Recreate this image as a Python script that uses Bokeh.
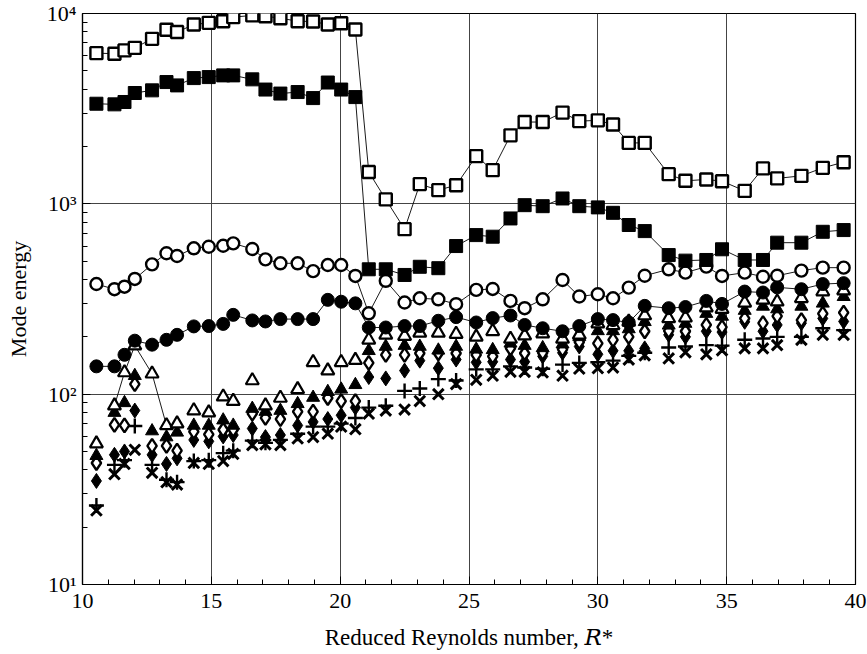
from bokeh.plotting import figure
from bokeh.models import FixedTicker, ColumnDataSource
from bokeh.embed import file_html
from bokeh.resources import INLINE

# Reduced Reynolds number positions
r_star = [10.54, 11.24, 11.63, 12.03, 12.70, 13.26, 13.67, 14.32, 14.90, 15.46,
          15.85, 16.59, 17.10, 17.68, 18.35, 18.95, 19.52, 20.04, 20.59, 21.11,
          21.77, 22.5, 23.09, 23.81, 24.50, 25.28, 25.92, 26.61, 27.16, 27.86,
          28.63, 29.28, 30.0, 30.59, 31.2, 31.82, 32.75, 33.40, 34.21, 34.82,
          35.70, 36.41, 36.96, 37.90, 38.73, 39.54]

open_square = [6190, 6150, 6400, 6600, 7360, 8220, 7990, 8750, 8930, 9110,
               9570, 9770, 9680, 9450, 9110, 9080, 8750, 8890, 8240, 1470,
               1055, 736, 1270, 1180, 1253, 1780, 1503, 2290, 2690, 2690,
               3015, 2720, 2745, 2610, 2090, 2090, 1432, 1321, 1343, 1315,
               1170, 1535, 1360, 1403, 1545, 1655]

filled_square = [3357, 3332, 3428, 3822, 3947, 4363, 4190, 4578, 4634, 4730,
                 4730, 4508, 3985, 3796, 3866, 3594, 4339, 3985, 3638, 453,
                 453, 423, 467, 459, 600, 685, 672, 838, 984, 972,
                 1067, 972, 958, 897, 774, 719, 538, 503, 507, 577,
                 507, 507, 625, 625, 713, 728]

open_circle = [379, 356, 367, 403, 481, 550, 532, 584, 595, 602,
               620, 579, 511, 487, 487, 443, 477, 477, 418, 266,
               394, 303, 319, 315, 297, 353, 357, 309, 283, 315,
               398, 326, 335, 319, 363, 419, 453, 435, 468, 418,
               435, 414, 419, 446, 462, 462]

filled_circle = [140, 140, 161, 191, 182, 193, 205, 227, 228, 234,
                 261, 244, 241, 248, 248, 248, 313, 306, 300, 224,
                 224, 228, 228, 243, 254, 238, 251, 259, 231, 222,
                 214, 228, 248, 245, 238, 291, 283, 287, 309, 298,
                 346, 342, 364, 356, 379, 383]

open_triangle = [55, 87, 130, 180, 128, 68.5, 70, 82, 80, 97,
                 92, 118, 87, 95.5, 106, 147, 133, 147, 151, 193,
                 205, 202, 210, 210, 207, 200, 214, 195, 203, 208,
                 195, 205, 235, 230, 240, 259, 250, 252, 285, 280,
                 302, 313, 306, 319, 346, 350]

filled_triangle = [47.5, 80, 90, 125, 64, 59.5, 63, 68.5, 68.5, 73,
                   68.5, 84, 81, 82, 89, 96, 103, 106, 112, 169,
                   178, 180, 178, 170, 178, 172, 171, 185, 180, 175,
                   183, 200, 215, 215, 220, 240, 230, 235, 265, 256,
                   275, 289, 280, 289, 300, 325]

open_diamond = [43.5, 69, 68.5, 113, 53.5, 53.5, 50.5, 63.5, 61.5, 65,
                65, 79, 75, 74, 81, 81, 95.5, 92, 92, 146,
                161, 161, 164, 164, 164, 161, 158, 174, 164, 165,
                172, 188, 185, 193, 200, 214, 215, 214, 231, 225,
                250, 236, 257, 245, 265, 268]

filled_diamond = [35, 48, 50, 82, 48, 43, 46, 57.5, 56.5, 60,
                  61, 66, 59.5, 61, 68.5, 71.5, 74, 77.5, 85, 123,
                  121, 133, 150, 137, 152, 147, 148, 152, 148, 158,
                  165, 178, 162, 169, 169, 174, 205, 200, 214, 212,
                  240, 214, 231, 236, 250, 241]

plus_mode = [26, 42.5, 45, 68, 42.5, 35.5, 34.5, 44.5, 45, 49,
             50.5, 57, 55.5, 57.5, 62, 67.5, 67.5, 70, 75, 85,
             87, 104, 107, 120, 118, 135, 135, 140, 138, 136,
             143, 146, 147, 150, 159, 165, 176, 178, 181, 180,
             193, 196, 200, 200, 222, 217]

cross_mode = [24.5, 38, 43, 51, 38.6, 34.5, 33.5, 43.5, 43, 44.5,
              48.5, 54, 54.5, 54, 58.5, 59.5, 62, 67.5, 65.5, 79,
              82, 83, 92, 100, 113, 119, 125, 131, 131, 130,
              125, 136, 137, 138, 152, 160, 154, 166, 162, 170,
              174, 174, 181, 193, 205, 205]

# the open-triangle points joined by a line at low R*
tri_line_idx = [1, 2, 3, 4, 5]

x_ticks = [10, 15, 20, 25, 30, 35, 40]
y_ticks = [10, 100, 1000, 10000]
y_tick_labels = {10: "10\u00b9", 100: "10\u00b2", 1000: "10\u00b3", 10000: "10\u2074"}
x_title = "Reduced Reynolds number, \U0001D445*"
y_title = "Mode energy"

SERIF = "'Liberation Serif', 'DejaVu Serif', serif"

p = figure(width=867, height=654, x_range=(10, 40), y_range=(10, 10000),
           y_axis_type="log", output_backend="svg", toolbar_location=None,
           min_border_left=82, min_border_right=12, min_border_top=13,
           min_border_bottom=70)
p.background_fill_color = "white"
p.border_fill_color = "white"
p.outline_line_color = "black"
p.outline_line_width = 1.2

# axes
p.xaxis.ticker = FixedTicker(ticks=x_ticks, minor_ticks=list(range(10, 41)))
minor_y = [m * 10 ** e for e in range(1, 4) for m in range(2, 10)]
p.yaxis.ticker = FixedTicker(ticks=y_ticks, minor_ticks=minor_y)
p.yaxis.major_label_overrides = y_tick_labels
for ax in (p.xaxis[0], p.yaxis[0]):
    ax.axis_line_color = "black"
    ax.axis_line_width = 1.2
    ax.major_tick_in = 8
    ax.major_tick_out = 0
    ax.minor_tick_in = 5
    ax.minor_tick_out = 0
    ax.major_tick_line_color = "black"
    ax.minor_tick_line_color = "black"
    ax.major_label_text_font = SERIF
    ax.major_label_text_font_size = "22px"
    ax.major_label_text_color = "black"
    ax.axis_label_text_font = SERIF
    ax.axis_label_text_font_style = "normal"
    ax.axis_label_text_color = "black"
p.xaxis.major_label_standoff = 9
p.yaxis.major_label_standoff = 6
p.xaxis.axis_label = x_title
p.xaxis.axis_label_text_font_size = "23px"
p.xaxis.axis_label_standoff = 14
p.yaxis.axis_label = y_title
p.yaxis.axis_label_text_font_size = "22px"
p.yaxis.axis_label_standoff = 13

p.xgrid.grid_line_color = "#444444"
p.ygrid.grid_line_color = "#444444"
p.xgrid.grid_line_width = 1
p.ygrid.grid_line_width = 1
p.xgrid.ticker = FixedTicker(ticks=x_ticks)
p.ygrid.ticker = FixedTicker(ticks=y_ticks)

src = ColumnDataSource(dict(x=r_star, osq=open_square, fsq=filled_square,
                            oci=open_circle, fci=filled_circle,
                            otr=open_triangle, ftr=filled_triangle,
                            odi=open_diamond, fdi=filled_diamond,
                            pl=plus_mode, cr=cross_mode))

# lower, unconnected modes
p.scatter("x", "cr", source=src, marker="x", size=15, line_color="black", line_width=3)
p.scatter("x", "pl", source=src, marker="cross", size=15, line_color="black", line_width=2.4)
p.scatter("x", "fdi", source=src, marker="diamond", size=15, fill_color="black", line_color="black")
p.scatter("x", "odi", source=src, marker="diamond", size=14, fill_color="white", line_color="black", line_width=2.4)
p.scatter("x", "ftr", source=src, marker="triangle", size=13, fill_color="black", line_color="black")
tri_x = [r_star[i] for i in tri_line_idx]
tri_y = [open_triangle[i] for i in tri_line_idx]
p.line(tri_x, tri_y, line_color="black", line_width=0.9)
p.scatter("x", "otr", source=src, marker="triangle", size=13, fill_color="white", line_color="black", line_width=2.2)

# connected modes
for col in ("fci", "oci", "fsq", "osq"):
    p.line("x", col, source=src, line_color="black", line_width=0.9)
p.scatter("x", "fci", source=src, marker="circle", size=13, fill_color="black", line_color="black")
p.scatter("x", "oci", source=src, marker="circle", size=12, fill_color="white", line_color="black", line_width=2.4)
p.scatter("x", "fsq", source=src, marker="square", size=13, fill_color="black", line_color="black")
p.scatter("x", "osq", source=src, marker="square", size=12, fill_color="white", line_color="black", line_width=2.4)

open("out.html", "w").write(file_html(p, INLINE))
